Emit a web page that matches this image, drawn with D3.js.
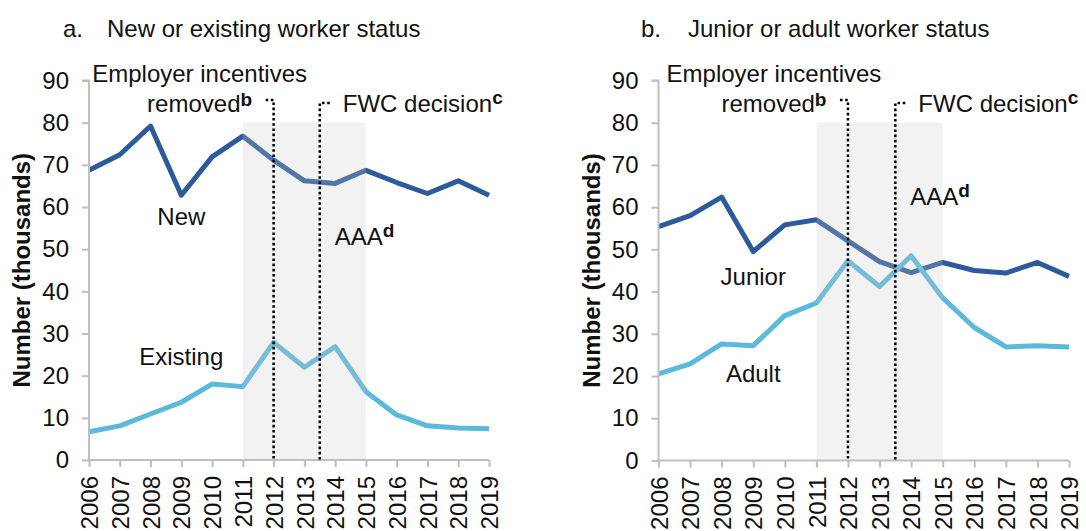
<!DOCTYPE html>
<html>
<head>
<meta charset="utf-8">
<script src="https://cdn.jsdelivr.net/npm/d3@7"></script>
<style>
  html, body { margin: 0; padding: 0; background: #fff; }
  svg { display: block; font-family: "Liberation Sans", Arial, sans-serif; }
</style>
</head>
<body>
<svg id="chart" width="1086" height="531"></svg>
<script>
// Years on the horizontal axis
const years = [2006, 2007, 2008, 2009, 2010, 2011, 2012, 2013, 2014, 2015, 2016, 2017, 2018, 2019];

// Panel a: new vs existing workers (thousands)
const newWorkers      = [68.7, 72.4, 79.2, 62.8, 71.9, 76.8, 71.1, 66.2, 65.6, 68.7, 65.8, 63.2, 66.2, 62.8];
const existingWorkers = [6.7, 8.1, 10.9, 13.7, 18.0, 17.4, 27.9, 22.0, 26.9, 16.2, 10.7, 8.1, 7.6, 7.4];

// Panel b: junior vs adult workers (thousands)
const juniorWorkers = [55.4, 58.0, 62.4, 49.5, 55.8, 57.0, 52.0, 47.1, 44.5, 46.9, 45.0, 44.4, 46.9, 43.6];
const adultWorkers  = [20.5, 22.9, 27.6, 27.2, 34.3, 37.3, 47.3, 41.2, 48.5, 38.5, 31.5, 26.9, 27.2, 26.9];

// Value axis ticks
const yTicks = [0, 10, 20, 30, 40, 50, 60, 70, 80, 90];

// Policy period shading and event markers
const bandYears = [2011, 2015];
const bandTop = 80;
const incentivesRemovedYear = 2012;
const fwcDecisionYear = 2013.5;

const darkBlue = "#2c5b9c";
const lightBlue = "#5bb9db";
const axisGrey = "#bfbfbf";
const FONT = 24;
const SUP = 19;

const svg = d3.select("#chart");

function drawPanel(cfg) {
  const x = d3.scaleLinear().domain([years[0], years[years.length - 1]]).range([cfg.x0, cfg.x1]);
  const y = d3.scaleLinear().domain([0, 90]).range([cfg.y0, cfg.y1]);
  const g = svg.append("g");

  // Title
  const title = g.append("text")
    .attr("y", 37)
    .attr("font-size", FONT)
    .attr("fill", "#111");
  title.append("tspan").attr("x", cfg.titleX).text(cfg.letter);
  title.append("tspan").attr("x", cfg.titleX + cfg.titleGap).text(cfg.title);

  // Series lines
  const line = d3.line().x((d, i) => x(years[i])).y(d => y(d));
  cfg.series.forEach(s => {
    g.append("path")
      .datum(s.values)
      .attr("d", line)
      .attr("fill", "none")
      .attr("stroke", s.color)
      .attr("stroke-width", 5)
      .attr("stroke-linejoin", "round");
  });

  // Translucent policy-period band over the lines
  g.append("rect")
    .attr("x", x(bandYears[0]))
    .attr("width", x(bandYears[1]) - x(bandYears[0]))
    .attr("y", y(bandTop))
    .attr("height", y(0) - y(bandTop))
    .attr("fill", "rgb(200,200,200)")
    .attr("fill-opacity", 0.24);

  // Axes
  const yAxis = d3.axisLeft(y).tickValues(yTicks).tickSize(7).tickPadding(13).tickFormat(d3.format("d"));
  const gy = g.append("g").attr("transform", `translate(${cfg.x0},0)`).call(yAxis);
  gy.select(".domain").attr("stroke", axisGrey).attr("stroke-width", 2).attr("d", `M-7,${cfg.y1}H0V${cfg.y0}`);
  gy.selectAll(".tick line").attr("stroke", axisGrey).attr("stroke-width", 2);
  gy.selectAll(".tick text").attr("font-size", FONT).attr("fill", "#111").attr("font-family", null);

  const xAxis = d3.axisBottom(x).tickValues(years).tickSize(7).tickFormat(d3.format("d"));
  const gx = g.append("g").attr("transform", `translate(0,${cfg.y0})`).call(xAxis);
  gx.select(".domain").attr("stroke", axisGrey).attr("stroke-width", 2).attr("d", `M${cfg.x0},0H${cfg.x1}`);
  gx.selectAll(".tick line").attr("stroke", axisGrey).attr("stroke-width", 2);
  gx.selectAll(".tick text")
    .attr("font-size", FONT).attr("fill", "#111").attr("font-family", null)
    .attr("y", 0).attr("dy", "0.36em")
    .attr("text-anchor", "end")
    .attr("transform", "translate(0,16) rotate(-90)");

  // Y axis title
  g.append("text")
    .attr("transform", `translate(${cfg.x0 - 59},${(cfg.y0 + cfg.y1) / 2}) rotate(-90)`)
    .attr("text-anchor", "middle")
    .attr("font-size", FONT)
    .attr("font-weight", "bold")
    .attr("fill", "#111")
    .text("Number (thousands)");

  // Event markers (dotted, with short leader at the top)
  const xb = x(incentivesRemovedYear);
  const xc = x(fwcDecisionYear);
  const dotted = p => g.append("path").attr("d", p).attr("fill", "none")
    .attr("stroke", "#000").attr("stroke-width", 2.5).attr("stroke-dasharray", "2.6,2.6");
  dotted(`M${xb - 8},100H${xb}V${cfg.y0}`);
  dotted(`M${xc + 10},103H${xc}V${cfg.y0}`);

  // Event annotations
  const cx = xb - 74;
  g.append("text").attr("x", cx).attr("y", 82).attr("text-anchor", "middle")
    .attr("font-size", FONT).attr("fill", "#111").text("Employer incentives");
  const rem = g.append("text").attr("x", cx).attr("y", 112).attr("text-anchor", "middle")
    .attr("font-size", FONT).attr("fill", "#111");
  rem.append("tspan").text("removed");
  rem.append("tspan").attr("font-weight", "bold").attr("font-size", SUP).attr("dy", -6).text("b");

  const fwc = g.append("text").attr("x", xc + 23).attr("y", 112)
    .attr("font-size", FONT).attr("fill", "#111");
  fwc.append("tspan").text("FWC decision");
  fwc.append("tspan").attr("font-weight", "bold").attr("font-size", SUP).attr("dy", -8).text("c");

  const aaa = g.append("text").attr("x", xc + 15).attr("y", y(cfg.aaaValue))
    .attr("font-size", FONT).attr("fill", "#111");
  aaa.append("tspan").text("AAA");
  aaa.append("tspan").attr("font-weight", "bold").attr("font-size", SUP).attr("dy", -8).text("d");

  // Series labels
  cfg.series.forEach(s => {
    g.append("text")
      .attr("x", x(s.labelYear))
      .attr("y", y(s.labelValue))
      .attr("text-anchor", "middle")
      .attr("font-size", FONT)
      .attr("fill", "#111")
      .text(s.name);
  });
}

drawPanel({
  x0: 89, x1: 489, y0: 460, y1: 80.5,
  titleX: 63, titleGap: 44, letter: "a.", title: "New or existing worker status",
  aaaValue: 51,
  series: [
    { name: "New", values: newWorkers, color: darkBlue, labelYear: 2009, labelValue: 55.7 },
    { name: "Existing", values: existingWorkers, color: lightBlue, labelYear: 2009, labelValue: 22.5 }
  ]
});

drawPanel({
  x0: 658.5, x1: 1069, y0: 460.5, y1: 80.5,
  titleX: 641, titleGap: 47, letter: "b.", title: "Junior or adult worker status",
  aaaValue: 60.5,
  series: [
    { name: "Junior", values: juniorWorkers, color: darkBlue, labelYear: 2009, labelValue: 41.6 },
    { name: "Adult", values: adultWorkers, color: lightBlue, labelYear: 2009, labelValue: 18.6 }
  ]
});
</script>
</body>
</html>
